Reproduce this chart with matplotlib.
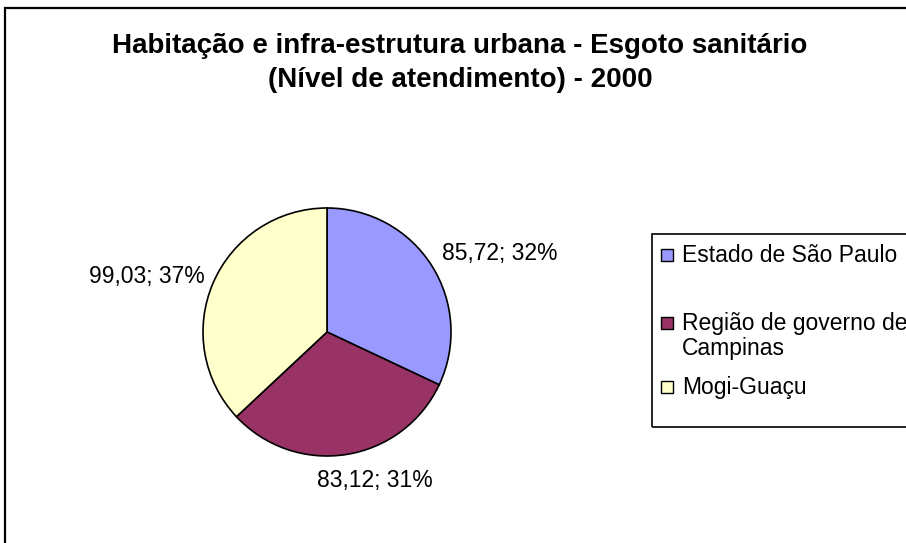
import numpy as np
import matplotlib.pyplot as plt
from matplotlib.patches import Rectangle

plt.rcParams['font.family'] = ['Liberation Sans', 'DejaVu Sans']

# data
categories = ["Estado de São Paulo", "Região de governo de\nCampinas", "Mogi-Guaçu"]
values = [85.72, 83.12, 99.03]
colors = ["#9999FF", "#993366", "#FFFFCC"]
title = "Habitação e infra-estrutura urbana - Esgoto sanitário\n(Nível de atendimento) - 2000"

# label placement (Excel style), offsets in pixels
label_align = ["left", "center", "right"]
label_shift = [(2, 7), (27, -16), (1, 2)]
legend_rows = [255, 323, 387]   # y of first text line of each legend entry

W, H = 906, 543
fig = plt.figure(figsize=(W / 100, H / 100), dpi=100)

# chart area border (runs off the right and bottom edge)
fig.patches.append(Rectangle((5 / W, -0.05), 1.2, 1 - 8 / H + 0.05,
                             transform=fig.transFigure, fill=False,
                             edgecolor="black", linewidth=1.6))

fig.text(460 / W, 1 - 63 / H, title, ha="center", va="center",
         fontsize=20, fontweight="bold", linespacing=1.38)

# pie
cx, cy, r = 327, 332, 124
ax = fig.add_axes([(cx - r) / W, 1 - (cy + r) / H, 2 * r / W, 2 * r / H])
wedges, _ = ax.pie(values, colors=colors, startangle=90, counterclock=False,
                   wedgeprops=dict(edgecolor="black", linewidth=1.2))
ax.set_xlim(-1, 1)
ax.set_ylim(-1, 1)
ax.set_aspect("equal")
ax.axis("off")

total = sum(values)
for w, v, ha, sh in zip(wedges, values, label_align, label_shift):
    ang = np.deg2rad((w.theta1 + w.theta2) / 2)
    txt = f"{v:.2f}".replace(".", ",") + f"; {round(100 * v / total)}%"
    ax.annotate(txt, (1.08 * np.cos(ang), 1.08 * np.sin(ang)), xytext=sh,
                textcoords="offset pixels", ha=ha, va="center",
                fontsize=16.5, annotation_clip=False)

# legend (drawn by hand to keep Excel's uneven spacing)
fig.patches.append(Rectangle((652 / W, 1 - 427 / H), 0.5, (427 - 234) / H,
                             transform=fig.transFigure, fill=False,
                             edgecolor="black", linewidth=1.2))
for lab, c, y in zip(categories, colors, legend_rows):
    fig.patches.append(Rectangle((661 / W, 1 - (y + 6) / H), 12 / W, 12 / H,
                                 transform=fig.transFigure, facecolor=c,
                                 edgecolor="black", linewidth=1))
    fig.text(682 / W, 1 - (y - 11) / H, lab, ha="left", va="top",
             fontsize=16.5, linespacing=1.12)

fig.savefig("out.png", dpi=100)
